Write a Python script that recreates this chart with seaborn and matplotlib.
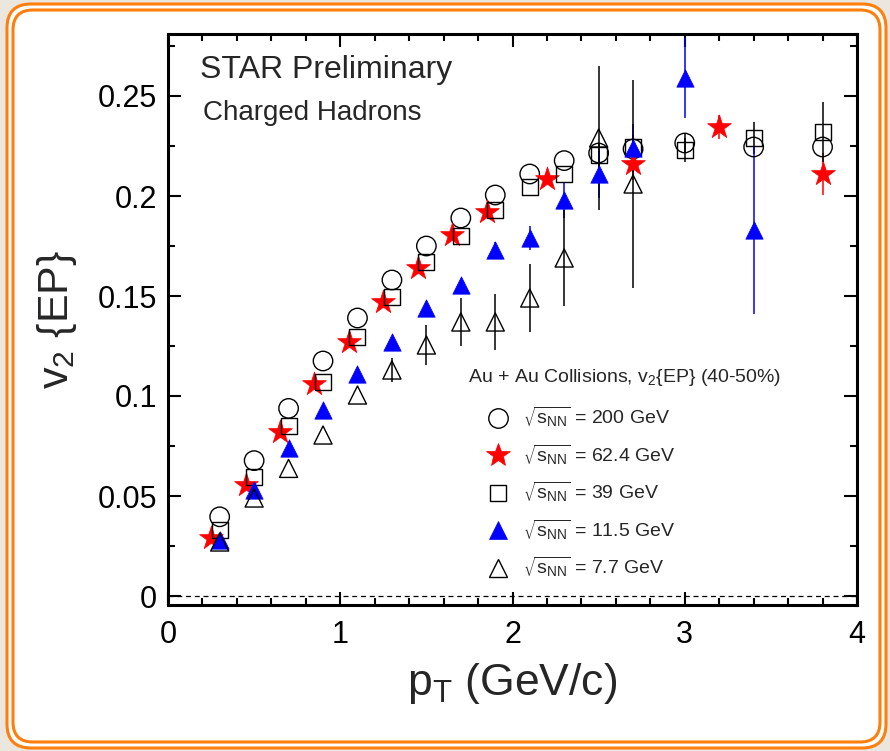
import matplotlib
matplotlib.use("Agg")
import matplotlib.pyplot as plt
import seaborn as sns
from matplotlib.patches import FancyBboxPatch
from matplotlib.lines import Line2D
from matplotlib.ticker import MultipleLocator, FuncFormatter
from matplotlib.transforms import IdentityTransform

# v2{EP} vs pT, Au+Au 40-50%
# (errors hidden behind the markers are put to 0)
pt_200 = [0.3, 0.5, 0.7, 0.9, 1.1, 1.3, 1.5, 1.7, 1.9, 2.1, 2.3, 2.5, 2.7, 3.0, 3.4, 3.8]
v2_200 = [0.0396, 0.0677, 0.0938, 0.1175, 0.139, 0.158, 0.175, 0.189, 0.2005, 0.211,
          0.2177, 0.2215, 0.2235, 0.2265, 0.2245, 0.2245]
err_200 = [0, 0, 0, 0, 0, 0, 0, 0, 0, 0,
           0, 0, 0, 0.005, 0, 0]

pt_624 = [0.25, 0.45, 0.65, 0.85, 1.05, 1.25, 1.45, 1.65, 1.85, 2.2, 2.7, 3.2, 3.8]
v2_624 = [0.029, 0.0555, 0.082, 0.106, 0.127, 0.147, 0.164, 0.1805, 0.192, 0.2083,
          0.216, 0.2347, 0.211]
err_624 = [0, 0, 0, 0, 0, 0, 0, 0, 0, 0.002,
           0.008, 0.006, 0.0105]

pt_39 = [0.3, 0.5, 0.7, 0.9, 1.1, 1.3, 1.5, 1.7, 1.9, 2.1, 2.3, 2.5, 2.7, 3.0, 3.4, 3.8]
v2_39 = [0.033, 0.0597, 0.085, 0.107, 0.1297, 0.1497, 0.167, 0.18, 0.193, 0.2047,
         0.211, 0.2205, 0.2247, 0.223, 0.229, 0.232]
err_39 = [0, 0, 0, 0, 0, 0, 0, 0, 0, 0,
          0, 0.006, 0.006, 0.006, 0.008, 0.015]

pt_115 = [0.3, 0.5, 0.7, 0.9, 1.1, 1.3, 1.5, 1.7, 1.9, 2.1, 2.3, 2.5, 2.7, 3.0, 3.4]
v2_115 = [0.028, 0.053, 0.0738, 0.093, 0.111, 0.127, 0.144, 0.1555, 0.173, 0.179,
          0.198, 0.211, 0.224, 0.259, 0.183]
err_115 = [0, 0, 0, 0, 0, 0.002, 0.002, 0.003, 0.004, 0.006,
           0.009, 0.012, 0.012, 0.02, 0.042]

pt_77 = [0.3, 0.5, 0.7, 0.9, 1.1, 1.3, 1.5, 1.7, 1.9, 2.1, 2.3, 2.5, 2.7]
v2_77 = [0.027, 0.049, 0.0638, 0.0805, 0.1005, 0.113, 0.1255, 0.137, 0.137, 0.149,
         0.169, 0.229, 0.206]
err_77 = [0, 0, 0, 0, 0, 0.006, 0.01, 0.012, 0.014, 0.017,
          0.024, 0.036, 0.052]

labels = [r"$\sqrt{s_{NN}}$ = 200 GeV", r"$\sqrt{s_{NN}}$ = 62.4 GeV",
          r"$\sqrt{s_{NN}}$ = 39 GeV", r"$\sqrt{s_{NN}}$ = 11.5 GeV",
          r"$\sqrt{s_{NN}}$ = 7.7 GeV"]

# marker, size, face, edge, edge width
series = [
    (pt_200, v2_200, err_200, "o", 14.0, "none", "black", 1.0),
    (pt_624, v2_624, err_624, "*", 18.0, "red", "red", 0.5),
    (pt_39, v2_39, err_39, "s", 11.5, "none", "black", 1.0),
    (pt_115, v2_115, err_115, "^", 12.5, "blue", "blue", 0.5),
    (pt_77, v2_77, err_77, "^", 13.0, "none", "black", 1.0),
]

sns.set_theme(style="ticks")
plt.rcParams["font.family"] = ["Liberation Sans", "DejaVu Sans"]
plt.rcParams["mathtext.default"] = "regular"

fig, ax = plt.subplots(figsize=(8.9, 7.51), dpi=100)
fig.patch.set_facecolor("#ebe6de")
fig.subplots_adjust(left=168 / 890, right=857 / 890, bottom=1 - 605 / 751, top=1 - 34 / 751)

# slide frame (double orange rounded border)
outer = FancyBboxPatch((7, 3), 879, 744, boxstyle="round,pad=0,rounding_size=24",
                       transform=IdentityTransform(), fc="white", ec="#ff7f0e", lw=2.2, zorder=-5)
inner = FancyBboxPatch((13, 9), 867, 732, boxstyle="round,pad=0,rounding_size=20",
                       transform=IdentityTransform(), fc="none", ec="#ff7f0e", lw=2.2, zorder=-4)
fig.patches.extend([outer, inner])

ax.axhline(0, color="black", lw=0.9, ls=(0, (4, 3)), zorder=1)

handles = []
for (x, y, e, m, ms, fc, ec, lw) in series:
    ax.errorbar(x, y, yerr=e, fmt="none", ecolor=ec, elinewidth=1.1, capsize=0, zorder=2)
    sns.scatterplot(x=x, y=y, marker=m, s=ms ** 2, color=ec, facecolor=fc, edgecolor=ec,
                    linewidth=lw, ax=ax, zorder=3, legend=False)
    handles.append(Line2D([], [], marker=m, ls="none", markersize=ms, markerfacecolor=fc,
                          markeredgecolor=ec, markeredgewidth=lw))

ax.set_xlim(0, 4)
ax.set_ylim(-0.0045, 0.281)
ax.xaxis.set_major_locator(MultipleLocator(1))
ax.xaxis.set_minor_locator(MultipleLocator(0.2))
ax.yaxis.set_major_locator(MultipleLocator(0.05))
ax.yaxis.set_minor_locator(MultipleLocator(0.025))
fmt = FuncFormatter(lambda v, p: f"{v:g}")
ax.xaxis.set_major_formatter(fmt)
ax.yaxis.set_major_formatter(fmt)
ax.tick_params(which="both", direction="in", top=True, right=True, width=1.5, colors="black")
ax.tick_params(which="major", length=9.5, labelsize=22)
ax.tick_params(which="minor", length=5)
ax.tick_params(axis="y", which="major", pad=8)
ax.tick_params(axis="x", which="major", pad=11)
for sp in ax.spines.values():
    sp.set_linewidth(2.2)
    sp.set_color("black")

ax.set_xlabel(r"p$_T$ (GeV/c)", fontsize=32, labelpad=8)
ax.set_ylabel(r"v$_2$ {EP}", fontsize=31, labelpad=13)

ax.text(0.046, 0.937, "STAR Preliminary", transform=ax.transAxes, fontsize=23, va="center")
ax.text(0.051, 0.862, "Charged Hadrons", transform=ax.transAxes, fontsize=20, va="center")
ax.text(0.435, 0.399, r"Au + Au Collisions, v$_2${EP} (40-50%)", transform=ax.transAxes,
        fontsize=14, va="center")

ax.legend(handles, labels, loc="upper left", bbox_to_anchor=(0.451, 0.350), frameon=False,
          fontsize=14, borderpad=0, borderaxespad=0, labelspacing=0.68, handletextpad=0.3,
          handlelength=2.0)

fig.savefig("out.png", dpi=100, facecolor=fig.get_facecolor())
